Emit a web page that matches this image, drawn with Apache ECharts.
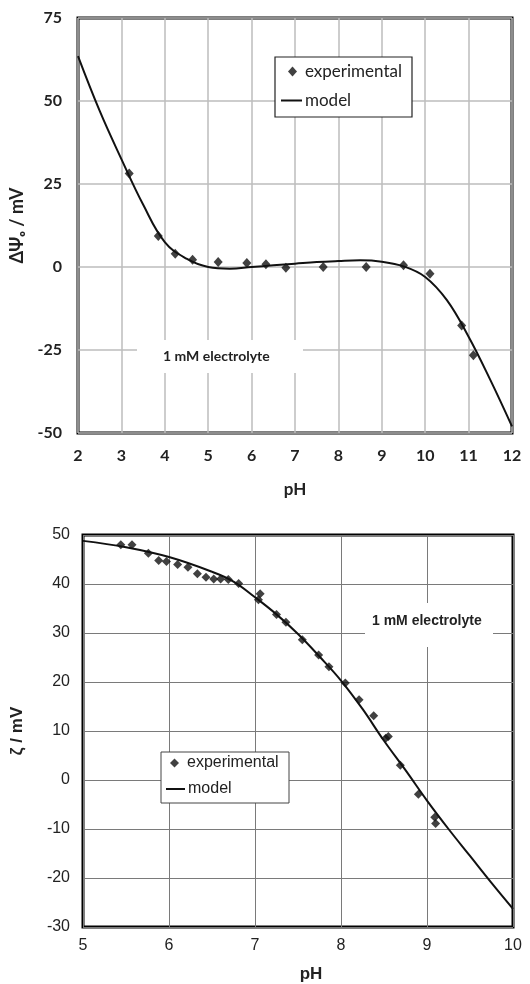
<!DOCTYPE html>
<html><head><meta charset="utf-8">
<script src="https://cdn.jsdelivr.net/npm/echarts@6/dist/echarts.min.js"></script>
<style>html,body{margin:0;padding:0;background:#fff}#c{width:530px;height:984px}</style>
</head><body><div id="c"></div>
<script>
// Top chart (surface potential)
const topExpPH  = [3.18, 3.85, 4.24, 4.64, 5.23, 5.89, 6.33, 6.79, 7.65, 8.64, 9.5, 10.11, 10.84, 11.11];
const topExpVal = [28.2, 9.3, 4.0, 2.2, 1.5, 1.2, 0.8, -0.2, 0, 0, 0.5, -2.0, -17.6, -26.6];
const topModelPH  = [2, 2.5, 3, 3.5, 4, 4.5, 5, 5.5, 6, 6.5, 7, 7.5, 8, 8.5, 9, 9.5, 10, 10.5, 11, 11.5, 12];
const topModelVal = [63.5, 47, 32.5, 18.8, 7.5, 2.5, 0, -0.5, 0, 0.5, 1.0, 1.5, 1.8, 2.0, 1.6, 0.2, -3, -10, -21, -34, -48];
const topXTicks = [2, 12, 1];      // min, max, interval
const topYTicks = [-50, 75, 25];

// Bottom chart (zeta potential)
const botExpPH  = [5.44, 5.57, 5.76, 5.88, 5.97, 6.10, 6.22, 6.33, 6.43, 6.52, 6.60, 6.69, 6.81, 7.04, 7.06, 7.25, 7.36, 7.55, 7.74, 7.86, 8.05, 8.21, 8.38, 8.52, 8.55, 8.69, 8.90, 9.09, 9.10];
const botExpVal = [48.0, 48.0, 46.3, 44.8, 44.6, 44.0, 43.4, 42.1, 41.4, 41.0, 41.0, 40.9, 40.1, 36.8, 38.0, 33.8, 32.2, 28.6, 25.5, 23.1, 19.8, 16.4, 13.1, 8.5, 8.9, 3.0, -2.9, -7.6, -8.9];
const botModelPH  = [5, 5.5, 6, 6.5, 6.75, 7, 7.25, 7.5, 7.75, 8, 8.25, 8.5, 8.75, 9, 9.25, 9.5, 9.75, 10];
const botModelVal = [48.8, 47.5, 45.5, 42.5, 40.5, 37.3, 33.8, 29.8, 25.2, 20.3, 14.5, 8.0, 2.0, -4.2, -10, -15.5, -21, -26.3];
const botXTicks = [5, 10, 1];
const botYTicks = [-30, 50, 10];

const zip = (a, b) => a.map((v, i) => [v, b[i]]);
const F1 = 'Lato, "Open Sans", sans-serif';
const F2 = '"Liberation Sans", Arial, sans-serif';

const chart = echarts.init(document.getElementById('c'), null, {renderer: 'canvas'});
chart.setOption({
  animation: false,
  backgroundColor: '#fff',
  grid: [
    {left: 78, right: 18, top: 18, height: 415, show: true, borderColor: '#000', borderWidth: 3, backgroundColor: 'transparent'},
    {left: 83, right: 17, top: 535, height: 393, show: true, borderColor: '#000', borderWidth: 3, backgroundColor: 'transparent'}
  ],
  xAxis: [
    {gridIndex: 0, type: 'value', min: topXTicks[0], max: topXTicks[1], interval: topXTicks[2],
     axisLine: {show: false}, axisTick: {show: false},
     axisLabel: {margin: 15, color: '#222', fontFamily: F1, fontWeight: 'bold', fontSize: 16},
     splitLine: {show: true, lineStyle: {color: '#bdbdbd', width: 1.5}},
     name: 'pH', nameLocation: 'middle', nameGap: 48,
     nameTextStyle: {fontFamily: F1, fontWeight: 'bold', fontSize: 17, color: '#222'}},
    {gridIndex: 1, type: 'value', min: botXTicks[0], max: botXTicks[1], interval: botXTicks[2],
     axisLine: {show: false}, axisTick: {show: false},
     axisLabel: {margin: 11, color: '#222', fontFamily: F2, fontSize: 16},
     splitLine: {show: true, lineStyle: {color: '#7a7a7a', width: 1}},
     name: 'pH', nameLocation: 'middle', nameGap: 39,
     nameTextStyle: {fontFamily: F2, fontWeight: 'bold', fontSize: 17, color: '#222', padding: [0, 0, 0, 26]}}
  ],
  yAxis: [
    {gridIndex: 0, type: 'value', min: topYTicks[0], max: topYTicks[1], interval: topYTicks[2],
     axisLine: {show: false}, axisTick: {show: false},
     axisLabel: {margin: 16, color: '#222', fontFamily: F1, fontWeight: 'bold', fontSize: 16},
     splitLine: {show: true, lineStyle: {color: '#bdbdbd', width: 1.5}},
     name: 'ΔΨₒ / mV', nameLocation: 'middle', nameGap: 49,
     nameTextStyle: {fontFamily: F1, fontWeight: 'bold', fontSize: 18, color: '#222'}},
    {gridIndex: 1, type: 'value', min: botYTicks[0], max: botYTicks[1], interval: botYTicks[2],
     axisLine: {show: false}, axisTick: {show: false},
     axisLabel: {margin: 13, color: '#222', fontFamily: F2, fontSize: 16},
     splitLine: {show: true, lineStyle: {color: '#7a7a7a', width: 1}},
     name: 'ζ / mV', nameLocation: 'middle', nameGap: 57,
     nameTextStyle: {fontFamily: F2, fontWeight: 'bold', fontSize: 17, color: '#222'}}
  ],
  legend: [
    {data: [{name: 'experimental', icon: 'diamond'}], left: 288, top: 63, padding: 0, itemWidth: 9, itemHeight: 10, z: 20,
     textStyle: {fontFamily: F1, fontSize: 17, color: '#222', padding: [0, 0, 0, 3]}, selectedMode: false},
    {data: [{name: 'model', icon: 'rect'}], left: 281, top: 92, padding: 0, itemWidth: 21, itemHeight: 2, z: 20,
     textStyle: {fontFamily: F1, fontSize: 17, color: '#222', padding: [0, 0, 0, -2]}, selectedMode: false},
    {data: [{name: 'experimental ', icon: 'diamond'}], left: 170, top: 755, padding: 0, itemWidth: 9, itemHeight: 9, z: 20,
     textStyle: {fontFamily: F2, fontSize: 16, color: '#222', padding: [0, 0, 0, 3]}, selectedMode: false},
    {data: [{name: 'model ', icon: 'rect'}], left: 166, top: 781, padding: 0, itemWidth: 19, itemHeight: 2, z: 20,
     textStyle: {fontFamily: F2, fontSize: 16, color: '#222', padding: [0, 0, 0, -2]}, selectedMode: false}
  ],
  graphic: [
    {type: 'rect', z: 10, shape: {x: 275, y: 57, width: 137, height: 60}, style: {fill: '#fff', stroke: '#222', lineWidth: 1.2}},
    {type: 'rect', z: 10, shape: {x: 161, y: 752, width: 128, height: 51}, style: {fill: '#fff', stroke: '#444', lineWidth: 1}},
    {type: 'rect', z: 10, shape: {x: 137, y: 340, width: 166, height: 33}, style: {fill: '#fff'}},
    {type: 'text', z: 11, x: 163, y: 356, style: {text: '1 mM electrolyte', fontFamily: F1, fontWeight: 'bold', fontSize: 14, fill: '#222', verticalAlign: 'middle'}},
    {type: 'rect', z: 10, shape: {x: 365, y: 603, width: 128, height: 44}, style: {fill: '#fff'}},
    {type: 'text', z: 11, x: 372, y: 621, style: {text: '1 mM electrolyte', fontFamily: F2, fontWeight: 'bold', fontSize: 14, fill: '#222', verticalAlign: 'middle'}}
  ],
  series: [
    {name: 'model', type: 'line', xAxisIndex: 0, yAxisIndex: 0, data: zip(topModelPH, topModelVal),
     smooth: 0.4, showSymbol: false, lineStyle: {color: '#111', width: 2}, itemStyle: {color: '#111'}, z: 3},
    {name: 'experimental', type: 'scatter', xAxisIndex: 0, yAxisIndex: 0, data: zip(topExpPH, topExpVal),
     symbol: 'diamond', symbolSize: [9, 10], itemStyle: {color: '#111'}, z: 4},
    {name: 'model ', type: 'line', xAxisIndex: 1, yAxisIndex: 1, data: zip(botModelPH, botModelVal),
     smooth: 0.4, showSymbol: false, lineStyle: {color: '#111', width: 2}, itemStyle: {color: '#111'}, z: 3},
    {name: 'experimental ', type: 'scatter', xAxisIndex: 1, yAxisIndex: 1, data: zip(botExpPH, botExpVal),
     symbol: 'diamond', symbolSize: [9, 9], itemStyle: {color: '#111'}, z: 4}
  ]
});
</script></body></html>
